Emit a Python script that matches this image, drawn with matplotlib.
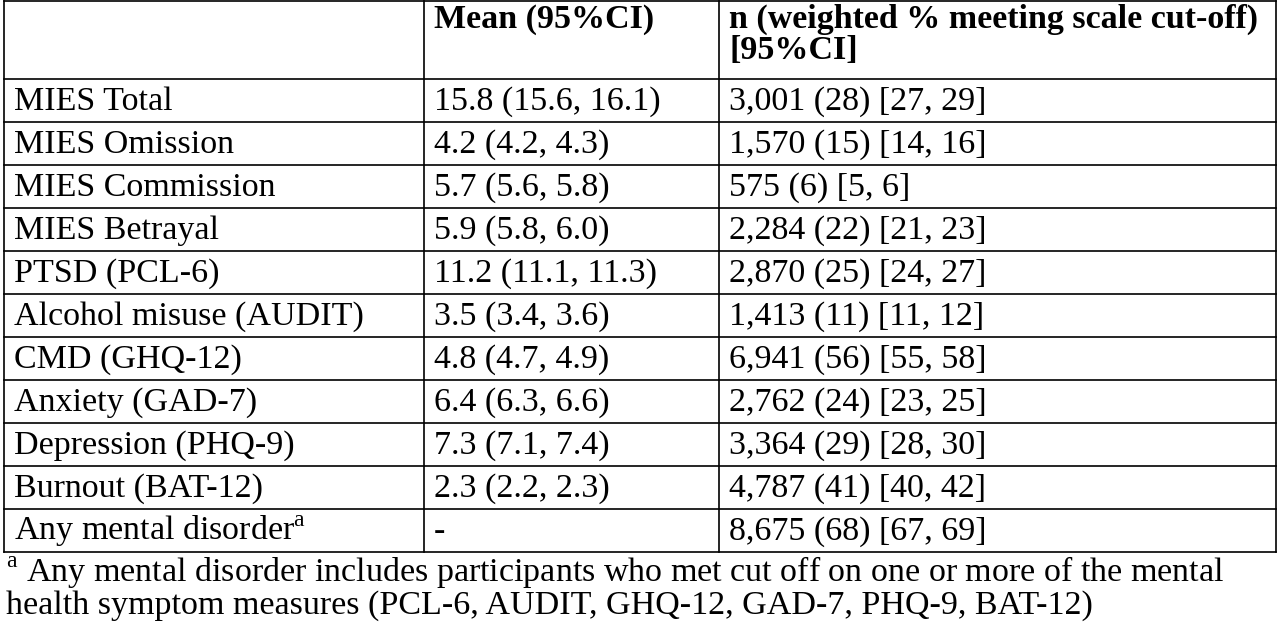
import matplotlib
matplotlib.use("Agg")
import matplotlib.pyplot as plt

headers = ["", "Mean (95%CI)", "n (weighted % meeting scale cut-off)\n[95%CI]"]
measures = ["MIES Total", "MIES Omission", "MIES Commission", "MIES Betrayal", "PTSD (PCL-6)",
            "Alcohol misuse (AUDIT)", "CMD (GHQ-12)", "Anxiety (GAD-7)", "Depression (PHQ-9)",
            "Burnout (BAT-12)", "Any mental disorder$^{\\mathrm{a}}$"]
means = ["15.8 (15.6, 16.1)", "4.2 (4.2, 4.3)", "5.7 (5.6, 5.8)", "5.9 (5.8, 6.0)", "11.2 (11.1, 11.3)",
         "3.5 (3.4, 3.6)", "4.8 (4.7, 4.9)", "6.4 (6.3, 6.6)", "7.3 (7.1, 7.4)", "2.3 (2.2, 2.3)", "-"]
counts = ["3,001 (28) [27, 29]", "1,570 (15) [14, 16]", "575 (6) [5, 6]", "2,284 (22) [21, 23]",
          "2,870 (25) [24, 27]", "1,413 (11) [11, 12]", "6,941 (56) [55, 58]", "2,762 (24) [23, 25]",
          "3,364 (29) [28, 30]", "4,787 (41) [40, 42]", "8,675 (68) [67, 69]"]
footnote = ("$^{\\mathrm{a}}$ Any mental disorder includes participants who met cut off on one or more of the mental\n"
            "health symptom measures (PCL-6, AUDIT, GHQ-12, GAD-7, PHQ-9, BAT-12)")

plt.rcParams['font.family'] = ['Liberation Serif', 'DejaVu Serif']
plt.rcParams['mathtext.fontset'] = 'custom'
plt.rcParams['mathtext.rm'] = 'Liberation Serif'

fig = plt.figure(figsize=(12.8, 6.32), dpi=100)
ax = fig.add_axes([0, 0, 1, 1])
ax.set_xlim(0, 1280); ax.set_ylim(632, 0); ax.axis('off')

colx = [4, 424, 719, 1276]
top, hdr_bot, rowh = 1, 79, 43.0
nrows = len(measures)
bottom = hdr_bot + rowh * nrows
lw = 1.2
for x in colx:
    ax.plot([x, x], [top, bottom], color='black', lw=lw)
ax.plot([colx[0], colx[-1]], [top, top], color='black', lw=lw)
ax.plot([colx[0], colx[-1]], [hdr_bot, hdr_bot], color='black', lw=lw)
for i in range(nrows):
    y = hdr_bot + rowh * (i + 1)
    ax.plot([colx[0], colx[-1]], [y, y], color='black', lw=lw)

fs = 24.5
for j, h in enumerate(headers):
    if h:
        ax.text(colx[j] + 10, 4, h, fontsize=fs, fontweight='bold', va='top', ha='left', linespacing=1.0)
for i in range(nrows):
    yc = hdr_bot + rowh * (i + 0.5)
    for j, t in enumerate([measures[i], means[i], counts[i]]):
        ax.text(colx[j] + 10, yc + 1, t, fontsize=fs, va='center', ha='left')
ax.text(colx[0] + 2, bottom + 2, footnote, fontsize=fs, va='top', ha='left', linespacing=1.0)

fig.savefig("out.png", dpi=100)
